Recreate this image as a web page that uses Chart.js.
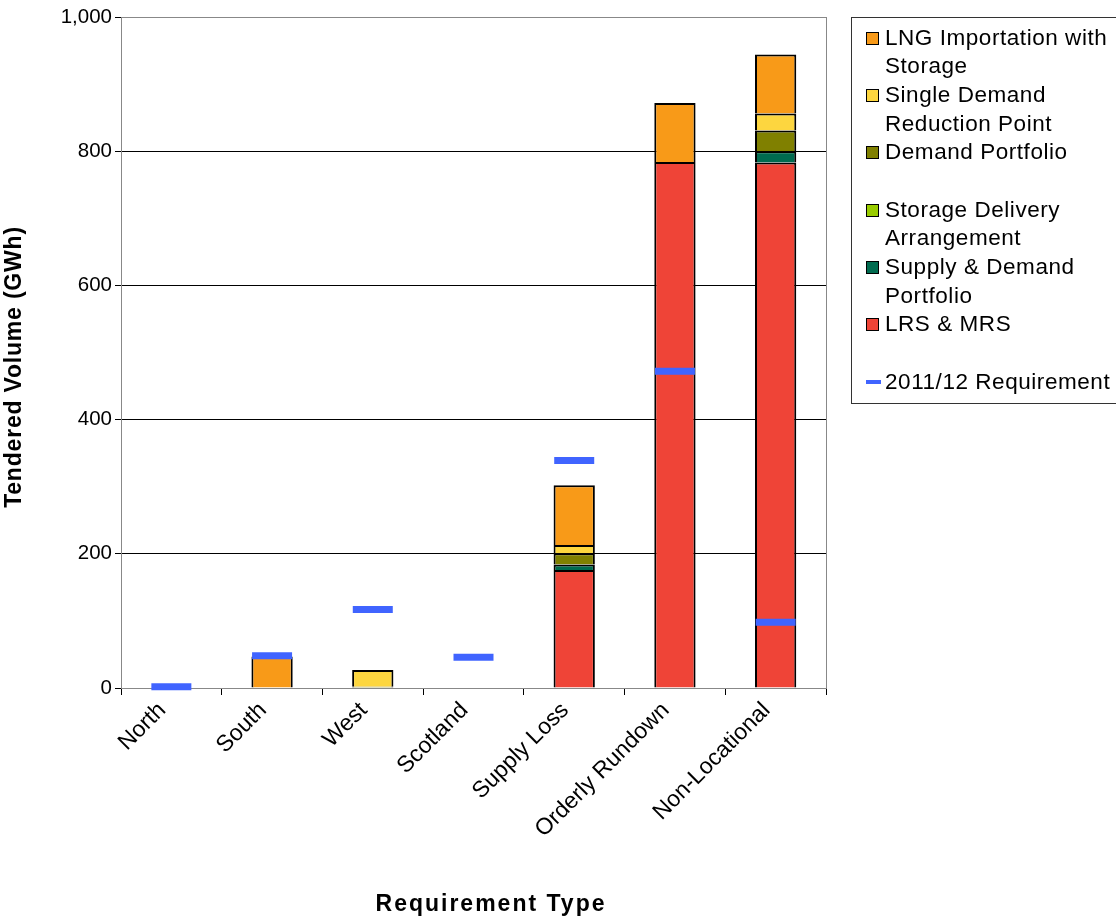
<!DOCTYPE html>
<html>
<head>
<meta charset="utf-8">
<script src="https://cdn.jsdelivr.net/npm/chart.js@4.4.1/dist/chart.umd.min.js"></script>
<style>
  html, body { margin: 0; padding: 0; background: #fff; overflow: hidden; }
  #wrap { position: relative; width: 1116px; height: 920px; }
  #chart { position: absolute; left: 0; top: 0; }
  #legend {
    position: absolute; left: 851px; top: 17px; width: 290px; height: 387px;
    border: 1px solid #333; box-sizing: border-box; overflow: hidden;
    font-family: "Liberation Sans", Arial, sans-serif; font-size: 22.5px; color: #000;
    letter-spacing: 0.55px;
  }
  .item { position: absolute; left: 0; height: 57.33px; width: 100%; }
  .item .txt { position: absolute; left: 33px; top: 0; line-height: 28.67px; white-space: pre; }
  .item .sw { position: absolute; left: 14px; top: 8px; width: 11px; height: 11px; border: 1px solid #000; }
  .item .ln { position: absolute; left: 14px; top: 12px; width: 15px; height: 4px; }
</style>
</head>
<body>
<div id="wrap">
  <canvas id="chart" width="1116" height="920"></canvas>
  <div id="legend"></div>
</div>
<script>
// Requirement types along the x axis
const categories = ["North", "South", "West", "Scotland", "Supply Loss", "Orderly Rundown", "Non-Locational"];

// Tendered volumes (GWh) by product, stacked bottom to top
const lrsMrs            = [null, null, null, null, 176, 784, 783];
const supplyDemandPort  = [null, null, null, null, 8, null, 17];
const storageDelivery   = [null, null, null, null, null, null, null];
const demandPortfolio   = [null, null, 2, null, 17, null, 31];
const singleDemandRed   = [null, null, 25, null, 12, null, 25];
const lngImportation    = [null, 47, null, null, 89, 88, 88];

// 2011/12 requirement per type (GWh)
const requirement2011   = [2, 48, 117, 46, 339, 472, 98];

// Y axis ticks
const yTicks = [0, 200, 400, 600, 800, 1000];

// Axis titles
const xTitle = 'Requirement Type';
const yTitle = 'Tendered Volume (GWh)';

const FONT = '"Liberation Sans", Arial, sans-serif';

const barStyle = (color) => ({
  backgroundColor: color,
  borderColor: '#000',
  borderWidth: 2,
  borderSkipped: 'start',
  stack: 'tender',
  order: 2
});

const datasets = [
  { label: 'LRS & MRS', data: lrsMrs, ...barStyle('#EF4437') },
  { label: 'Supply & Demand\nPortfolio', data: supplyDemandPort, ...barStyle('#006B4F') },
  { label: 'Storage Delivery\nArrangement', data: storageDelivery, ...barStyle('#99CC00') },
  { label: 'Demand Portfolio', data: demandPortfolio, ...barStyle('#808000') },
  { label: 'Single Demand\nReduction Point', data: singleDemandRed, ...barStyle('#FDD63F') },
  { label: 'LNG Importation with\nStorage', data: lngImportation, ...barStyle('#F89A18') },
  {
    type: 'line', label: '2011/12 Requirement', data: requirement2011,
    showLine: false, stack: 'req', order: 1, clip: false,
    pointStyle: 'line', pointRadius: 20, pointHoverRadius: 20,
    borderColor: '#4064FF', backgroundColor: '#4064FF',
    pointBorderWidth: 7, borderWidth: 7
  }
];

// Grey box round the plot area, and the two spaced-out axis titles
const frame = {
  id: 'frame',
  beforeDatasetsDraw(chart) {
    const { ctx, chartArea: a } = chart;
    ctx.save();
    ctx.strokeStyle = '#888';
    ctx.lineWidth = 1;
    ctx.strokeRect(a.left + 0.5, a.top + 0.5, a.right - a.left, a.bottom - a.top);
    ctx.restore();
  },
  afterDraw(chart) {
    const { ctx } = chart;
    ctx.save();
    ctx.fillStyle = '#000';
    ctx.textAlign = 'center';
    ctx.textBaseline = 'middle';
    ctx.font = 'bold 23px ' + FONT;
    ctx.letterSpacing = '2px';
    ctx.fillText(xTitle, 491, 905);
    ctx.translate(15, 367);
    ctx.rotate(-Math.PI / 2);
    ctx.letterSpacing = '0.8px';
    ctx.fillText(yTitle, 0, 0);
    ctx.restore();
  }
};

const chart = new Chart(document.getElementById('chart'), {
  type: 'bar',
  data: { labels: categories, datasets },
  plugins: [frame],
  options: {
    responsive: false,
    animation: false,
    layout: { autoPadding: false, padding: { left: 0, top: 17, right: 290, bottom: 0 } },
    datasets: { bar: { categoryPercentage: 1, barPercentage: 0.41 } },
    plugins: { legend: { display: false }, tooltip: { enabled: false } },
    scales: {
      x: {
        stacked: true,
        afterFit: (s) => { s.height = 232; },
        grid: { display: true, drawOnChartArea: false, drawTicks: true, tickLength: 7, color: '#000', offset: true },
        border: { display: true, color: '#000', width: 1 },
        ticks: { color: '#000', font: { family: FONT, size: 23 }, minRotation: 45, maxRotation: 45, padding: 2, labelOffset: -9, autoSkip: false }
      },
      y: {
        stacked: true,
        min: 0, max: 1000,
        afterFit: (s) => { s.width = 121; },
        afterBuildTicks: (s) => { s.ticks = yTicks.map(v => ({ value: v })); },
        grid: { color: '#000', lineWidth: 1, tickLength: 6 },
        border: { display: true, color: '#000', width: 1 },
        ticks: {
          color: '#000', font: { family: FONT, size: 20.5 }, padding: 3,
          callback: (v) => v.toLocaleString('en-US')
        }
      }
    }
  }
});

// Legend, top entry first, each entry gets a two-line slot
const legend = document.getElementById('legend');
const order = [5, 4, 3, 2, 1, 0, 6];
order.forEach((idx, i) => {
  const ds = chart.data.datasets[idx];
  const item = document.createElement('div');
  item.className = 'item';
  item.style.top = (5.7 + i * 57.33) + 'px';
  const mark = document.createElement('div');
  if (ds.type === 'line') {
    mark.className = 'ln';
    mark.style.background = ds.borderColor;
  } else {
    mark.className = 'sw';
    mark.style.background = ds.backgroundColor;
  }
  const txt = document.createElement('div');
  txt.className = 'txt';
  txt.textContent = ds.label;
  item.appendChild(mark);
  item.appendChild(txt);
  legend.appendChild(item);
});
</script>
</body>
</html>
